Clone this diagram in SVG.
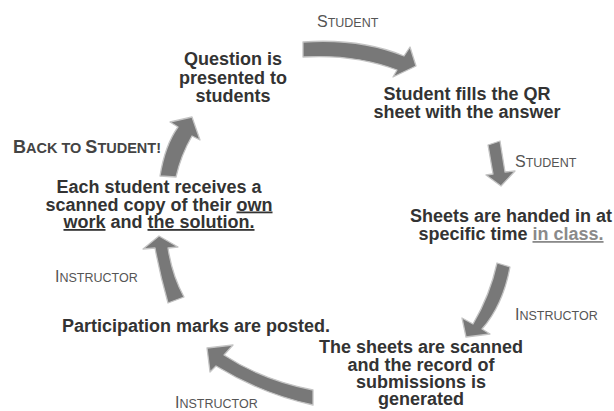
<svg xmlns="http://www.w3.org/2000/svg" width="614" height="411" viewBox="0 0 614 411">
<style>
.n{font-family:"Liberation Sans",Arial,sans-serif;font-size:18px;font-weight:bold;fill:#333;text-anchor:middle}
.l{font-family:"Liberation Sans",Arial,sans-serif;font-size:16px;fill:#555}
.l .s{font-size:12.5px}
.b{font-family:"Liberation Sans",Arial,sans-serif;font-size:18px;font-weight:bold;fill:#444}
.b .s{font-size:14.5px}
.u{text-decoration:underline}
.g{fill:#8a8a8a}
.a{fill:#787878;stroke:#c4c4c4;stroke-width:1.3;stroke-linejoin:round}
</style>
<rect width="614" height="411" fill="#fff"/>
<g id="connectors">
<path class="a" d="M303,42 Q360,38 404,56 L410,47 L416,66 L393,77 L397,70 Q355,54 303,57 Z"/>
<path class="a" d="M488,145 L500,141 L505,172 L515,171 L501,186 L486,175 L493,174 Z"/>
<path class="a" d="M497,263 L510,267 Q503,305 482,329 L490,334 L466,337 L462,318 L473,324 Q490,295 497,263 Z"/>
<path class="a" d="M313,390 Q262,380 224,355 L233,345 L207,348 L210,372 L216,366 Q262,394 313,405 Z"/>
<path class="a" d="M143,249 L159,236 L178,247 L168,248 Q172,275 184,297 L168,303 Q160,275 155,248 Z"/>
<path class="a" d="M170,122 L192,117 L200,140 L192,136 Q181,155 176,177 L160,176 Q165,145 178,127 Z"/>
<text class="l" x="317" y="27">S<tspan class="s">TUDENT</tspan></text>
<text class="l" x="515" y="167">S<tspan class="s">TUDENT</tspan></text>
<text class="l" x="515" y="320">I<tspan class="s">NSTRUCTOR</tspan></text>
<text class="l" x="175" y="408">I<tspan class="s">NSTRUCTOR</tspan></text>
<text class="l" x="55" y="282">I<tspan class="s">NSTRUCTOR</tspan></text>
<text class="b" x="13" y="153">B<tspan class="s">ACK TO </tspan>S<tspan class="s">TUDENT!</tspan></text>
</g>
<g id="question">
<text class="n" x="233" y="65">Question is</text>
<text class="n" x="233" y="83.5">presented to</text>
<text class="n" x="233" y="102">students</text>
</g>
<g id="fill">
<text class="n" x="467" y="100">Student fills the QR</text>
<text class="n" x="467" y="118">sheet with the answer</text>
</g>
<g id="handin">
<text class="n" x="511" y="222">Sheets are handed in at</text>
<text class="n" x="511" y="240">specific time <tspan class="u g">in class.</tspan></text>
</g>
<g id="scan">
<text class="n" x="421" y="353">The sheets are scanned</text>
<text class="n" x="421" y="370.5">and the record of</text>
<text class="n" x="421" y="388">submissions is</text>
<text class="n" x="421" y="405">generated</text>
</g>
<g id="marks">
<text class="n" x="196" y="332">Participation marks are posted.</text>
</g>
<g id="receive">
<text class="n" x="159" y="193">Each student receives a</text>
<text class="n" x="159" y="210.5">scanned copy of their <tspan class="u">own</tspan></text>
<text class="n" x="159" y="228"><tspan class="u">work</tspan> and <tspan class="u">the solution.</tspan></text>
</g>
</svg>
